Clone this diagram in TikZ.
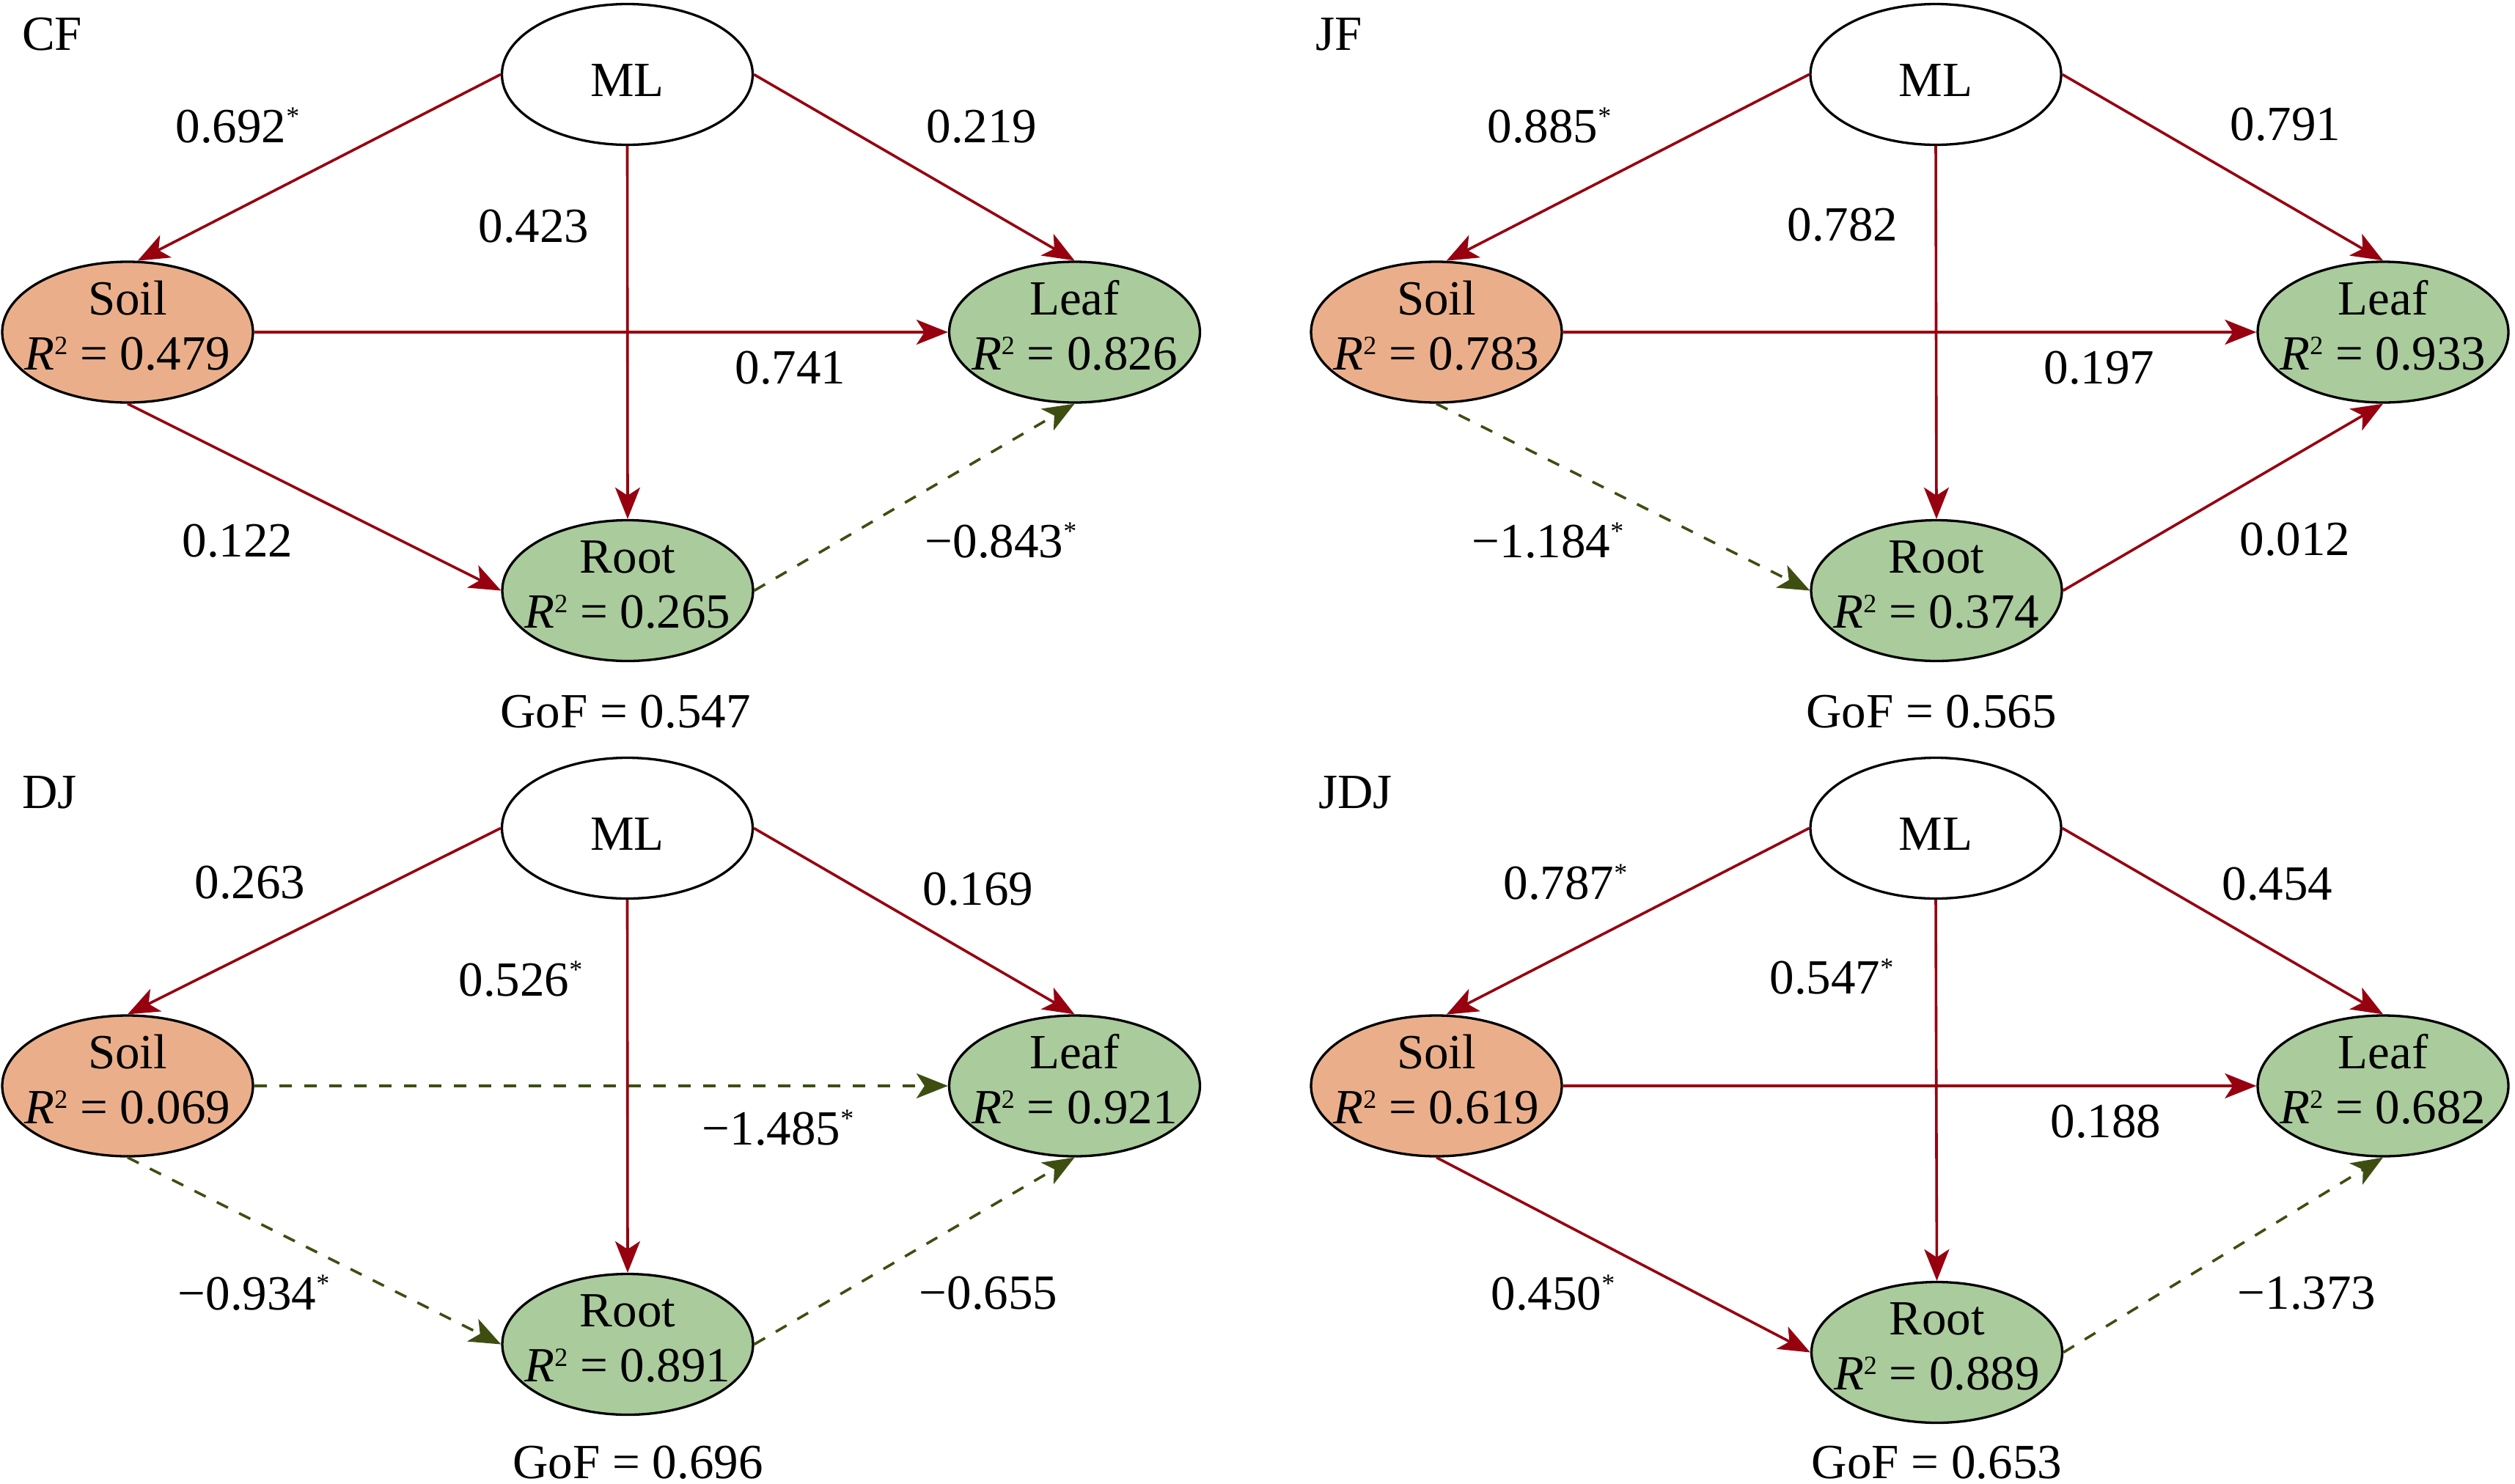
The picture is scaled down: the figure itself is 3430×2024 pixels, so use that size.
\documentclass[tikz,border=0pt]{standalone}
\usepackage{fontspec}
\setmainfont{Liberation Serif}
\usetikzlibrary{arrows.meta,shapes.geometric}
\definecolor{redc}{RGB}{150,0,15}
\definecolor{grnc}{RGB}{62,78,17}
\definecolor{soilc}{RGB}{234,175,138}
\definecolor{leafc}{RGB}{170,203,156}
\newcommand\sig{\raisebox{24pt}{\fontsize{36}{36}\selectfont *}}
\newcommand\rsq{\textit{R}\raisebox{21pt}{\fontsize{36}{36}\selectfont 2}}
\newcommand\latnode[6]{%
  \node[lat,#4] (#1) at (#2,#3) {};
  \node[txt,yshift=24pt] (#1a) at (#1) {#5};
  \node[txt,yshift=-51pt] (#1b) at (#1) {\rsq{} = #6};}
\begin{document}
\begin{tikzpicture}[x=1pt,y=-1pt,
  lat/.style={ellipse,draw=black,line width=3.3pt,minimum width=342pt,minimum height=192pt,inner sep=0pt},
  soilf/.style={fill=soilc},
  leaff/.style={fill=leafc},
  mlnode/.style={lat,fill=white,font=\fontsize{67}{75}\selectfont,text height=59pt,text depth=0pt},
  txt/.style={font=\fontsize{67}{75}\selectfont,inner sep=0pt,anchor=base},
  lbl/.style={font=\fontsize{67}{75}\selectfont,inner sep=0pt,text depth=0pt,anchor=center},
  gof/.style={font=\fontsize{67}{75}\selectfont,inner sep=0pt,anchor=base},
  ttl/.style={font=\fontsize{67}{75}\selectfont,inner sep=0pt,anchor=base west},
  sol/.style={draw=redc,line width=3.6pt,-{Stealth[length=43pt,width=34pt,inset=11pt]}},
  dsh/.style={draw=grnc,line width=3.6pt,dash pattern=on 17pt off 17pt,-{Stealth[length=43pt,width=34pt,inset=11pt]}}]
\useasboundingbox (0,0) rectangle (3430,2024);

% ---------------- CF ----------------
\node[mlnode] (cfml) at (855.5,101.5) {ML};
\latnode{cfsoil}{174}{453}{soilf}{Soil}{0.479}
\latnode{cfleaf}{1465.5}{453}{leaff}{Leaf}{0.826}
\latnode{cfroot}{856}{805.5}{leaff}{Root}{0.265}
\draw[sol] (cfml.west) -- (cfsoil.82);
\draw[sol] (cfml.east) -- (cfleaf.north);
\draw[sol] (cfml.south) -- (cfroot.north);
\draw[sol] (cfsoil.east) -- (cfleaf.west);
\draw[sol] (cfsoil.south) -- (cfroot.west);
\draw[dsh] (cfroot.east) -- (cfleaf.south);
\node[lbl] (cfl1) at (324,171) {0.692\sig};
\node[lbl] (cfl2) at (1339,172) {0.219};
\node[lbl] (cfl3) at (728,308) {0.423};
\node[lbl] (cfl4) at (1078,501) {0.741};
\node[lbl] (cfl5) at (324,737) {0.122};
\node[lbl] (cfl6) at (1365,737) {−0.843\sig};
\node[gof] (cfg) at (853,992) {GoF = 0.547};
\node[ttl] (cft) at (30,68) {CF};

% ---------------- JF ----------------
\node[mlnode] (jfml) at (2640,101.5) {ML};
\latnode{jfsoil}{1959}{453}{soilf}{Soil}{0.783}
\latnode{jfleaf}{3250}{453}{leaff}{Leaf}{0.933}
\latnode{jfroot}{2641}{805.5}{leaff}{Root}{0.374}
\draw[sol] (jfml.west) -- (jfsoil.82);
\draw[sol] (jfml.east) -- (jfleaf.north);
\draw[sol] (jfml.south) -- (jfroot.north);
\draw[sol] (jfsoil.east) -- (jfleaf.west);
\draw[dsh] (jfsoil.south) -- (jfroot.west);
\draw[sol] (jfroot.east) -- (jfleaf.south);
\node[lbl] (jfl1) at (2113,171) {0.885\sig};
\node[lbl] (jfl2) at (3117,169) {0.791};
\node[lbl] (jfl3) at (2513,306) {0.782};
\node[lbl] (jfl4) at (2863,501) {0.197};
\node[lbl] (jfl5) at (2111,737) {−1.184\sig};
\node[lbl] (jfl6) at (3130,735) {0.012};
\node[gof] (jfg) at (2634,992) {GoF = 0.565};
\node[ttl] (jft) at (1794,68) {JF};

% ---------------- DJ ----------------
\node[mlnode] (djml) at (855.5,1129.5) {ML};
\latnode{djsoil}{174}{1481}{soilf}{Soil}{0.069}
\latnode{djleaf}{1465.5}{1481}{leaff}{Leaf}{0.921}
\latnode{djroot}{856}{1833.5}{leaff}{Root}{0.891}
\draw[sol] (djml.west) -- (djsoil.north);
\draw[sol] (djml.east) -- (djleaf.north);
\draw[sol] (djml.south) -- (djroot.north);
\draw[dsh] (djsoil.east) -- (djleaf.west);
\draw[dsh] (djsoil.south) -- (djroot.west);
\draw[dsh] (djroot.east) -- (djleaf.south);
\node[lbl] (djl1) at (341,1203) {0.263};
\node[lbl] (djl2) at (1334,1212) {0.169};
\node[lbl] (djl3) at (710,1335) {0.526\sig};
\node[lbl] (djl4) at (1061,1538) {−1.485\sig};
\node[lbl] (djl5) at (346,1763) {−0.934\sig};
\node[lbl] (djl6) at (1348,1763) {−0.655};
\node[gof] (djg) at (870,2016) {GoF = 0.696};
\node[ttl] (djt) at (30,1102) {DJ};

% ---------------- JDJ ----------------
\node[mlnode] (jdml) at (2640,1129.5) {ML};
\latnode{jdsoil}{1959}{1481}{soilf}{Soil}{0.619}
\latnode{jdleaf}{3250}{1481}{leaff}{Leaf}{0.682}
\latnode{jdroot}{2641.5}{1844.5}{leaff}{Root}{0.889}
\draw[sol] (jdml.west) -- (jdsoil.82);
\draw[sol] (jdml.east) -- (jdleaf.north);
\draw[sol] (jdml.south) -- (jdroot.north);
\draw[sol] (jdsoil.east) -- (jdleaf.west);
\draw[sol] (jdsoil.south) -- (jdroot.west);
\draw[dsh] (jdroot.east) -- (jdleaf.south);
\node[lbl] (jdl1) at (2135,1203) {0.787\sig};
\node[lbl] (jdl2) at (3106,1205) {0.454};
\node[lbl] (jdl3) at (2498,1332) {0.547\sig};
\node[lbl] (jdl4) at (2872,1529) {0.188};
\node[lbl] (jdl5) at (2118,1763) {0.450\sig};
\node[lbl] (jdl6) at (3146,1763) {−1.373};
\node[gof] (jdg) at (2641.5,2016) {GoF = 0.653};
\node[ttl] (jdt) at (1798,1102) {JDJ};
\end{tikzpicture}
\end{document}
